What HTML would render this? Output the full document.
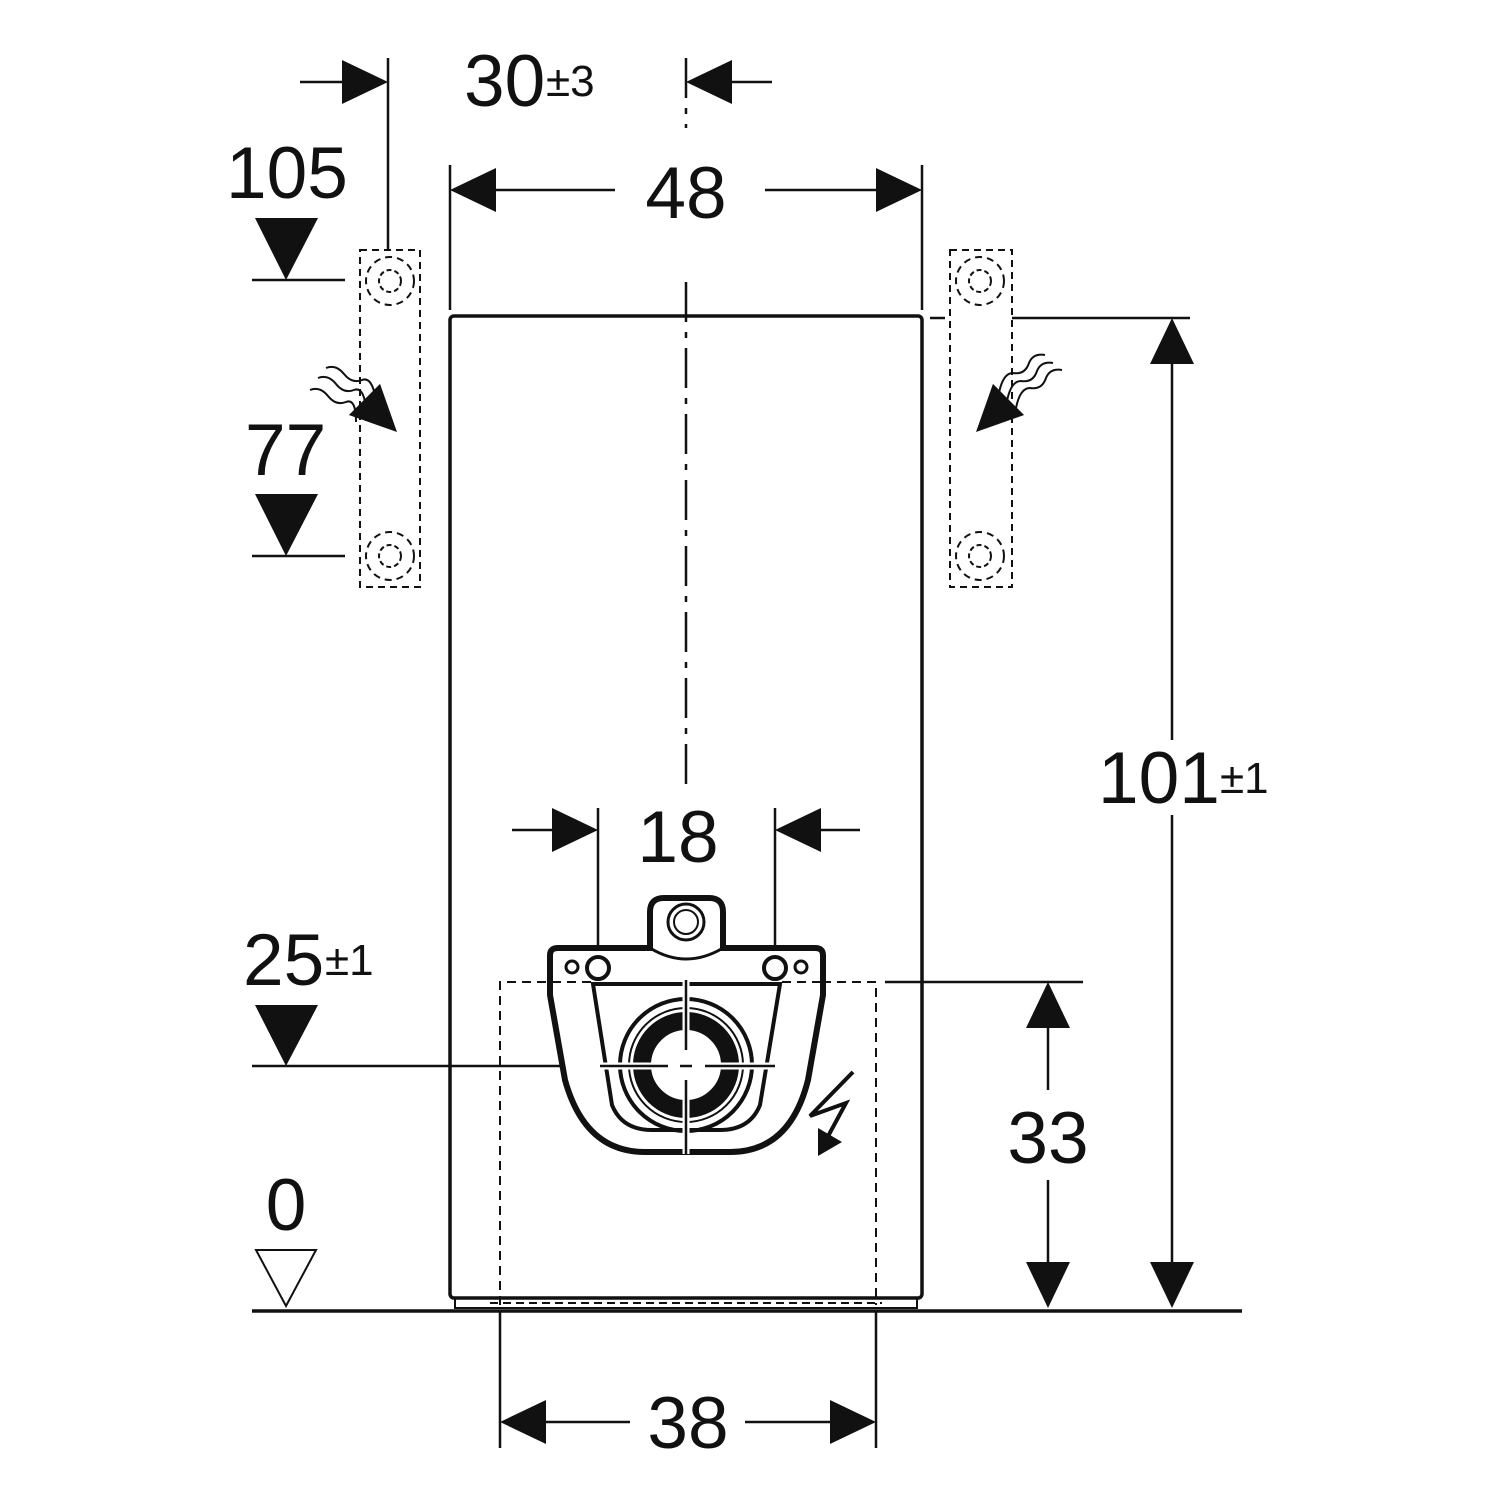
<!DOCTYPE html>
<html><head><meta charset="utf-8"><style>html,body{margin:0;padding:0;background:#fff}svg{display:block}text{font-family:"Liberation Sans",sans-serif;fill:#111}</style></head><body>
<svg width="1500" height="1500" viewBox="0 0 1500 1500" xmlns="http://www.w3.org/2000/svg">
<defs>
<path id="ah" d="M0 0 L-46 -22 L-46 22 Z" fill="#111"/>
</defs>
<g stroke="#111" fill="none" stroke-width="2.5">
<rect x="450" y="316" width="472" height="982" rx="4" stroke-width="3.5"/>
<line x1="252" y1="1311" x2="1242" y2="1311" stroke-width="3.5"/>
<rect x="455" y="1298" width="462" height="10" stroke-width="2"/>
<line x1="490" y1="1303" x2="882" y2="1303" stroke-dasharray="8 5" stroke-width="2"/>
<line x1="686" y1="58" x2="686" y2="128" stroke-dasharray="40 10 6 10"/>
<line x1="686" y1="282" x2="686" y2="785" stroke-dasharray="40 10 6 10"/>
<line x1="388" y1="58" x2="388" y2="250"/>
<line x1="300" y1="82" x2="345" y2="82"/>
<line x1="730" y1="82" x2="772" y2="82"/>
<line x1="450" y1="165" x2="450" y2="310"/>
<line x1="922" y1="165" x2="922" y2="310"/>
<line x1="495" y1="190" x2="615" y2="190"/>
<line x1="765" y1="190" x2="878" y2="190"/>
<line x1="252" y1="280" x2="345" y2="280"/>
<line x1="252" y1="556" x2="345" y2="556"/>
<line x1="252" y1="1066" x2="600" y2="1066"/>
<g stroke-dasharray="7 5" stroke-width="2">
<rect x="360" y="250" width="60" height="337"/>
<rect x="950" y="250" width="62" height="337"/>
<circle cx="390" cy="281" r="24"/><circle cx="390" cy="556" r="24"/>
<circle cx="980" cy="281" r="24"/><circle cx="980" cy="556" r="24"/>
<circle cx="390" cy="281" r="11" stroke-dasharray="5 3"/><circle cx="390" cy="556" r="11" stroke-dasharray="5 3"/>
<circle cx="980" cy="281" r="11" stroke-dasharray="5 3"/><circle cx="980" cy="556" r="11" stroke-dasharray="5 3"/>
</g>
<path d="M326 368 q10 -4 18 6 q8 10 18 6 q10 -4 14 20" stroke-width="2"/>
<path d="M318 378 q10 -4 18 6 q8 10 18 6 q10 -4 12 20" stroke-width="2"/>
<path d="M310 390 q10 -4 18 6 q8 10 18 6 q10 -4 10 20" stroke-width="2"/>
<path d="M1045 355 q-12 -2 -16 8 q-4 12 -16 10 q-10 0 -14 20" stroke-width="2"/>
<path d="M1053 363 q-12 -2 -16 8 q-4 12 -16 10 q-10 0 -14 20" stroke-width="2"/>
<path d="M1062 370 q-12 -2 -16 8 q-4 12 -16 10 q-10 0 -14 20" stroke-width="2"/>
<line x1="930" y1="318" x2="945" y2="318"/>
<line x1="1012" y1="318" x2="1190" y2="318"/>
<line x1="1172" y1="360" x2="1172" y2="740"/>
<line x1="1172" y1="815" x2="1172" y2="1265"/>
<line x1="598" y1="808" x2="598" y2="962"/>
<line x1="775" y1="808" x2="775" y2="962"/>
<line x1="512" y1="830" x2="555" y2="830"/>
<line x1="818" y1="830" x2="860" y2="830"/>
<path d="M500 1305 V982 H876 V1305" stroke-dasharray="9 6" stroke-width="2"/>
<line x1="885" y1="982" x2="1083" y2="982"/>
<line x1="1048" y1="1025" x2="1048" y2="1090"/>
<line x1="1048" y1="1180" x2="1048" y2="1265"/>
<line x1="500" y1="1312" x2="500" y2="1448"/>
<line x1="876" y1="1312" x2="876" y2="1448"/>
<line x1="545" y1="1422" x2="630" y2="1422"/>
<line x1="745" y1="1422" x2="830" y2="1422"/>
<path d="M550 955 Q550 948 558 948 H650 V912 Q650 898 664 898 H709 Q723 898 723 912 V948 H815 Q823 948 823 955 V995 L808 1080 Q790 1152 730 1152 H645 Q585 1152 565 1080 L550 995 Z" stroke-width="6" fill="#fff"/>
<line x1="552" y1="982" x2="592" y2="982" stroke-dasharray="9 6" stroke-width="2"/>
<line x1="782" y1="982" x2="822" y2="982" stroke-dasharray="9 6" stroke-width="2"/>
<path d="M650 948 Q686 970 723 948" stroke-width="3"/>
<circle cx="686" cy="922" r="18" stroke-width="3"/>
<circle cx="686" cy="922" r="12" stroke-width="2"/>
<path d="M593 984 H780 L760 1105 Q750 1130 720 1130 H652 Q622 1130 612 1105 Z" stroke-width="4"/>
<circle cx="686" cy="1065" r="66" stroke-width="4"/>
<circle cx="686" cy="1065" r="57" stroke-width="2"/>
<circle cx="686" cy="1065" r="44" stroke-width="18"/>
<circle cx="598" cy="968" r="11" stroke-width="4"/>
<circle cx="775" cy="968" r="11" stroke-width="4"/>
<circle cx="572" cy="967" r="6" stroke-width="3"/>
<circle cx="801" cy="967" r="6" stroke-width="3"/>
<line x1="600" y1="1066" x2="775" y2="1066" stroke="#fff" stroke-width="7"/>
<line x1="686" y1="980" x2="686" y2="1154" stroke="#fff" stroke-width="7"/>
<line x1="600" y1="1066" x2="668" y2="1066"/>
<line x1="705" y1="1066" x2="775" y2="1066"/>
<line x1="686" y1="980" x2="686" y2="1050"/>
<line x1="686" y1="1080" x2="686" y2="1155"/>
<line x1="680" y1="1066" x2="692" y2="1066"/>
<path d="M853 1072 L810 1116 L846 1103 L826 1140" stroke-width="4"/>
<path d="M256 1250 H316 L286 1306 Z" stroke-width="2"/>
</g>
<g fill="#111">
<use href="#ah" transform="translate(388,82)"/>
<use href="#ah" transform="translate(686,82) rotate(180)"/>
<use href="#ah" transform="translate(450,190) rotate(180)"/>
<use href="#ah" transform="translate(922,190)"/>
<use href="#ah" transform="translate(1172,318) rotate(-90)"/>
<use href="#ah" transform="translate(1172,1308) rotate(90)"/>
<use href="#ah" transform="translate(598,830)"/>
<use href="#ah" transform="translate(775,830) rotate(180)"/>
<use href="#ah" transform="translate(1048,982) rotate(-90)"/>
<use href="#ah" transform="translate(1048,1308) rotate(90)"/>
<use href="#ah" transform="translate(500,1422) rotate(180)"/>
<use href="#ah" transform="translate(876,1422)"/>
<use href="#ah" transform="translate(397,432) rotate(45)"/>
<use href="#ah" transform="translate(976,432) rotate(135)"/>
<path d="M818 1156 L818 1128 L842 1142 Z"/>
<path d="M255 218 H318 L286 280 Z"/>
<path d="M255 494 H318 L286 556 Z"/>
<path d="M255 1005 H318 L286 1066 Z"/>
</g>
<g font-size="73">
<text x="464" y="106">30</text><text x="546" y="96" font-size="44">±3</text>
<text x="686" y="218" text-anchor="middle">48</text>
<text x="226" y="198">105</text>
<text x="245" y="475">77</text>
<text x="1098" y="803">101</text><text x="1220" y="793" font-size="44">±1</text>
<text x="678" y="862" text-anchor="middle">18</text>
<text x="243" y="985">25</text><text x="325" y="975" font-size="44">±1</text>
<text x="1048" y="1163" text-anchor="middle">33</text>
<text x="286" y="1230" text-anchor="middle">0</text>
<text x="688" y="1448" text-anchor="middle">38</text>
</g>
</svg>
</body></html>
